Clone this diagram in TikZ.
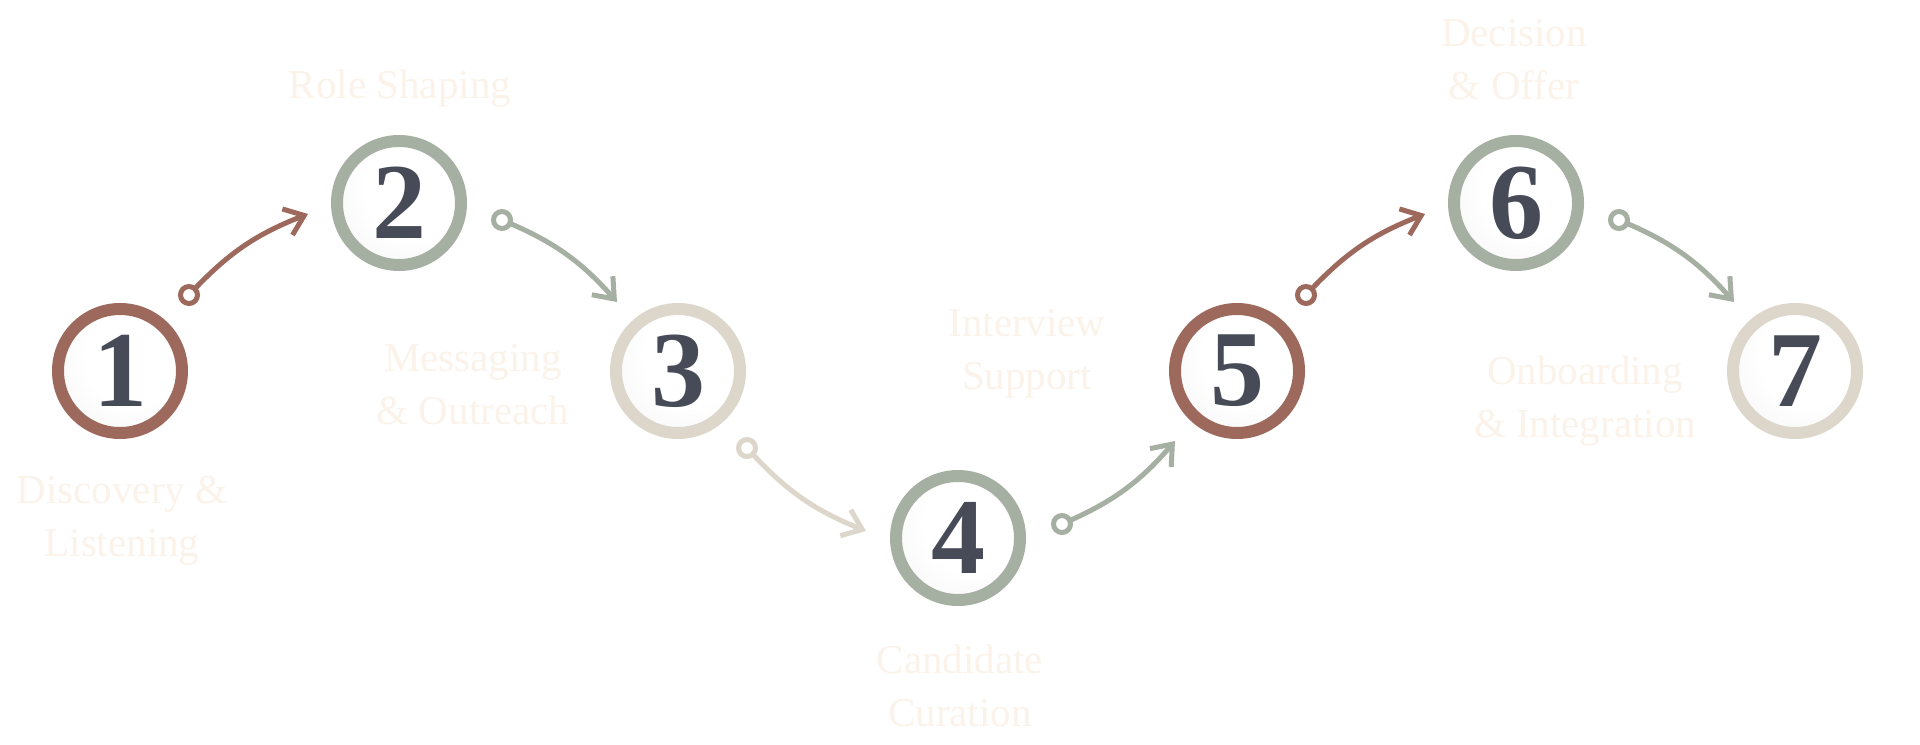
\documentclass[tikz,border=0pt]{standalone}
\usepackage{fontspec}
\setmainfont{Liberation Serif}
\usetikzlibrary{arrows.meta,calc}
\definecolor{cbrown}{HTML}{9D695D}
\definecolor{csage}{HTML}{A5B0A2}
\definecolor{cbeige}{HTML}{DDD6CA}
\definecolor{cdigit}{HTML}{464B57}
\definecolor{clabel}{HTML}{FBF3EA}
\pgfdeclareradialshading{glow}{\pgfpoint{10bp}{10bp}}{color(0bp)=(white); color(20bp)=(white); color(42bp)=(black!5); color(50bp)=(black!14)}
\begin{document}
\begin{tikzpicture}[x=0.5pt,y=0.5pt,
  stepnode/.style={circle, minimum size=62pt, inner sep=0pt, line width=6pt, shading=glow, draw=#1, text=cdigit, font=\fontsize{54}{54}\selectfont\bfseries},
  steplabel/.style={text=clabel, align=center, inner sep=0pt, font=\fontsize{20.5}{26.5}\selectfont},
  conn/.style={line width=2.5pt, draw=#1, -{Straight Barb[length=9pt,width=14pt]}},
  dot/.style={circle, draw=#1, line width=2.5pt, fill=white, minimum size=8.5pt, inner sep=0pt}
]
\fill[white] (0,0) rectangle (1920,-744);
\useasboundingbox (0,0) rectangle (1920,-744);

% step circles
\node[stepnode=cbrown] (n1) at (120,-371) {1};
\node[stepnode=csage]  (n2) at (399,-203) {2};
\node[stepnode=cbeige] (n3) at (678,-371) {3};
\node[stepnode=csage]  (n4) at (958,-538) {4};
\node[stepnode=cbrown] (n5) at (1237,-371) {5};
\node[stepnode=csage]  (n6) at (1516,-203) {6};
\node[stepnode=cbeige] (n7) at (1795,-371) {7};

% labels
\node[steplabel] (l1) at (122,-521) {Discovery \&\\Listening};
\node[steplabel] (l2) at (400,-89) {Role Shaping};
\node[steplabel] (l3) at (473,-385) {Messaging\\\& Outreach};
\node[steplabel] (l4) at (960,-686) {Candidate\\Curation};
\node[steplabel] (l5) at (1027,-354) {Interview\\Support};
\node[steplabel] (l6) at (1514,-60) {Decision\\\& Offer};
\node[steplabel] (l7) at (1585,-401) {Onboarding\\\& Integration};

% connector end points
\coordinate (s12) at ($(n1)+(69,76)$);   \coordinate (e12) at ($(n2)+(-91,-11)$);
\coordinate (s23) at ($(n2)+(103,-17)$); \coordinate (e23) at ($(n3)+(-61,69)$);
\coordinate (s34) at ($(n3)+(69,-77)$);  \coordinate (e34) at ($(n4)+(-92,7)$);
\coordinate (s45) at ($(n4)+(104,14)$);  \coordinate (e45) at ($(n5)+(-62,-70)$);
\coordinate (s56) at ($(n5)+(69,76)$);   \coordinate (e56) at ($(n6)+(-91,-11)$);
\coordinate (s67) at ($(n6)+(103,-17)$); \coordinate (e67) at ($(n7)+(-61,69)$);

% connectors
\draw[conn=cbrown] (s12) to[bend left=13] (e12);
\draw[conn=csage]  (s23) to[bend left=13] (e23);
\draw[conn=cbeige] (s34) to[bend right=13] (e34);
\draw[conn=csage]  (s45) to[bend right=13] (e45);
\draw[conn=cbrown] (s56) to[bend left=13] (e56);
\draw[conn=csage]  (s67) to[bend left=13] (e67);

\node[dot=cbrown] (d12) at (s12) {};
\node[dot=csage]  (d23) at (s23) {};
\node[dot=cbeige] (d34) at (s34) {};
\node[dot=csage]  (d45) at (s45) {};
\node[dot=cbrown] (d56) at (s56) {};
\node[dot=csage]  (d67) at (s67) {};
\end{tikzpicture}
\end{document}
